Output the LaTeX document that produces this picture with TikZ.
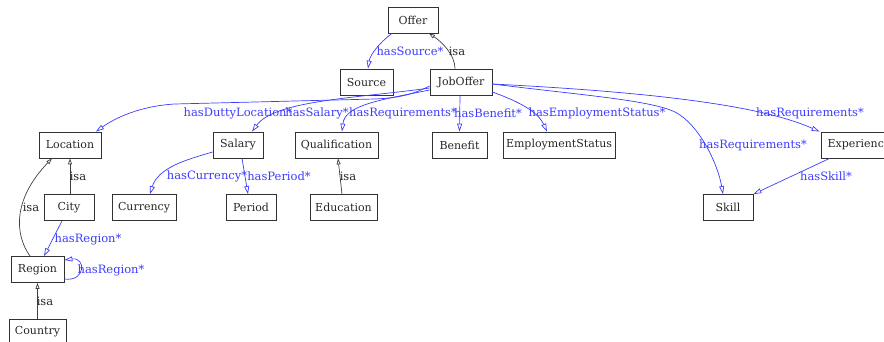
\documentclass[tikz,border=0pt]{standalone}
\usepackage{fontspec}
\setmainfont{DejaVu Serif}
\usetikzlibrary{arrows.meta}
\definecolor{eblue}{RGB}{60,60,255}
\definecolor{boxline}{RGB}{50,50,50}
\tikzset{
  cls/.style={draw=boxline, line width=0.8pt, rectangle, minimum height=26pt, inner sep=1pt,
    font=\fontsize{11}{12}\selectfont, text=black!85},
  rel/.style={draw=eblue, line width=0.7pt, -{Triangle[open,length=8pt,width=5pt]}},
  isarel/.style={draw=black!75, line width=0.7pt, -{Triangle[open,length=6pt,width=4pt]}},
  rlab/.style={inner sep=0pt, text=eblue, font=\fontsize{11.5}{12}\selectfont},
  ilab/.style={inner sep=0pt, text=black!85, font=\fontsize{11.5}{12}\selectfont},
}
\begin{document}
\begin{tikzpicture}[x=1pt,y=-1pt]
\useasboundingbox (0,0) rectangle (884,342);
% classes
\node[cls, minimum width=50pt] (Offer) at (413,20) {Offer};
\node[cls, minimum width=53pt] (Source) at (366.5,82) {Source};
\node[cls, minimum width=62pt] (JobOffer) at (461,82) {JobOffer};
\node[cls, minimum width=62pt] (Location) at (70,145) {Location};
\node[cls, minimum width=50pt] (Salary) at (238,145) {Salary};
\node[cls, minimum width=83pt] (Qualification) at (336.5,145) {Qualification};
\node[cls, minimum width=55pt] (Benefit) at (459.5,145) {Benefit};
\node[cls, minimum width=112pt] (EmploymentStatus) at (559,145) {EmploymentStatus};
\node[cls, minimum width=76pt] (Experience) at (859,145) {Experience};
\node[cls, minimum width=50pt] (Skill) at (728,207.5) {Skill};
\node[cls, minimum width=50pt] (City) at (69,207.5) {City};
\node[cls, minimum width=64pt] (Currency) at (144,207.5) {Currency};
\node[cls, minimum width=50pt] (Period) at (251,207.5) {Period};
\node[cls, minimum width=67pt] (Education) at (343.5,207.5) {Education};
\node[cls, minimum width=53pt] (Region) at (37.5,269.5) {Region};
\node[cls, minimum width=57pt] (Country) at (37.5,332) {Country};
% isa edges
\draw[isarel] ([xshift=-6pt]JobOffer.north) .. controls (455,55) and (442,42) .. ([xshift=16pt]Offer.south);
\draw[isarel] ([xshift=-1.5pt]Education.north) -- ([xshift=1.5pt]Qualification.south);
\draw[isarel] ([xshift=1pt]City.north) -- (Location.south);
\draw[isarel] ([xshift=-7.5pt]Region.north) .. controls (15,235) and (12,200) .. ([xshift=-18pt]Location.south);
\draw[isarel] (Country.north) -- (Region.south);
% relations
\draw[rel] ([xshift=-21pt]Offer.south) .. controls (380,42) and (370,55) .. ([xshift=1.5pt]Source.north);
\draw[rel] ([yshift=-4pt]JobOffer.west) .. controls (410,96) and (395,98) .. (375,99) -- (175,104) .. controls (140,106) and (115,118) .. ([xshift=26pt]Location.north);
\draw[rel] ([yshift=-6pt]JobOffer.west) .. controls (360,98) and (275,100) .. ([xshift=14pt]Salary.north);
\draw[rel] ([yshift=-8pt]JobOffer.west) .. controls (380,100) and (345,105) .. ([xshift=5.5pt]Qualification.north);
\draw[rel] ([xshift=-1pt]JobOffer.south) -- (Benefit.north);
\draw[rel] ([yshift=-10pt]JobOffer.east) .. controls (520,102) and (538,112) .. ([xshift=-12pt]EmploymentStatus.north);
\draw[rel] ([yshift=-2pt]JobOffer.east) .. controls (580,95) and (650,100) .. (675,112) .. controls (700,125) and (718,165) .. ([xshift=-5pt]Skill.north);
\draw[rel] ([yshift=-2pt]JobOffer.east) .. controls (650,92) and (760,105) .. ([xshift=-1pt]Experience.north west);
\draw[rel] ([xshift=9pt]Experience.south west) -- (Skill.north east);
\draw[rel] ([yshift=-7pt]Salary.west) .. controls (185,160) and (158,168) .. ([xshift=6pt]Currency.north);
\draw[rel] ([xshift=4pt]Salary.south) -- ([xshift=-3pt]Period.north);
\draw[rel] ([xshift=-7pt]City.south) -- ([xshift=6.5pt]Region.north);
\draw[rel] ([yshift=-9.5pt]Region.east) .. controls (86,282) and (86,257) .. ([yshift=9.5pt]Region.east);
% labels
\node[ilab] (lIsaOffer) at (457,51) {isa};
\node[rlab] (lSource) at (410,51) {hasSource*};
\node[rlab] (lDutty) at (238,113) {hasDuttyLocation*};
\node[rlab] (lSalary) at (317,113) {hasSalary*};
\node[rlab] (lReqQ) at (403,113) {hasRequirements*};
\node[rlab] (lBenefit) at (488,113) {hasBenefit*};
\node[rlab] (lEmp) at (597,113) {hasEmploymentStatus*};
\node[rlab] (lReqS) at (753,145) {hasRequirements*};
\node[rlab] (lReqE) at (810,113) {hasRequirements*};
\node[rlab] (lSkill) at (826,176) {hasSkill*};
\node[rlab] (lCurr) at (207,176) {hasCurrency*};
\node[rlab] (lPeriod) at (279,176) {hasPeriod*};
\node[ilab] (lIsaEdu) at (348,176) {isa};
\node[ilab] (lIsaCity) at (78,176) {isa};
\node[ilab] (lIsaRegion) at (31,207) {isa};
\node[rlab] (lCityRegion) at (88,239) {hasRegion*};
\node[rlab] (lLoop) at (111,270) {hasRegion*};
\node[ilab] (lIsaCountry) at (45,301) {isa};
\end{tikzpicture}
\end{document}
